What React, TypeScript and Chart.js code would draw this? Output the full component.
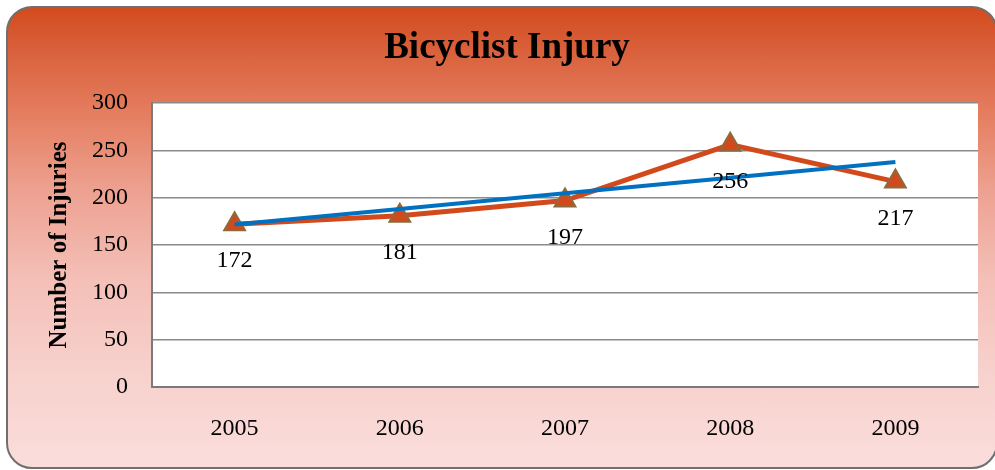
import React, { useEffect, useRef } from "react";
import { Chart, registerables } from "chart.js";

Chart.register(...registerables);

const chartTitle = "Bicyclist Injury";
const years = ["2005", "2006", "2007", "2008", "2009"];
const injuries = [172, 181, 197, 256, 217];
const trend = [171.6, 188.1, 204.6, 221.1, 237.6];
const yTicks = [0, 50, 100, 150, 200, 250, 300];

const SERIF = "'Liberation Serif', 'Times New Roman', serif";

const plotBg = {
  id: "plotBg",
  beforeDraw(chart: any) {
    const { ctx, chartArea } = chart;
    ctx.save();
    ctx.fillStyle = "#ffffff";
    ctx.fillRect(chartArea.left, chartArea.top, chartArea.right - chartArea.left, chartArea.bottom - chartArea.top);
    ctx.restore();
  },
};

const titlePlugin = {
  id: "customTitle",
  afterDraw(chart: any) {
    const { ctx } = chart;
    ctx.save();
    ctx.font = `bold 37px ${SERIF}`;
    ctx.fillStyle = "#000";
    ctx.textAlign = "center";
    ctx.textBaseline = "middle";
    ctx.fillText(chartTitle, 507, 48);
    ctx.restore();
  },
};

const dataLabels = {
  id: "dataLabels",
  afterDatasetsDraw(chart: any) {
    const { ctx } = chart;
    const meta = chart.getDatasetMeta(1);
    ctx.save();
    ctx.font = `24px ${SERIF}`;
    ctx.fillStyle = "#000";
    ctx.textAlign = "center";
    ctx.textBaseline = "middle";
    meta.data.forEach((pt: any, i: number) => {
      ctx.fillText(String(injuries[i]), pt.x, pt.y + 37);
    });
    ctx.restore();
  },
};

export default function App() {
  const ref = useRef<HTMLCanvasElement>(null);
  useEffect(() => {
    if (!ref.current) return;
    const chart = new Chart(ref.current, {
      type: "line",
      data: {
        labels: years,
        datasets: [
          {
            label: "Trend",
            data: trend,
            borderColor: "#0070C0",
            borderWidth: 4,
            pointRadius: 0,
            tension: 0,
          },
          {
            label: "Injuries",
            data: injuries,
            borderColor: "#D24A1C",
            borderWidth: 5,
            pointStyle: "triangle",
            pointRadius: 12,
            pointBackgroundColor: "#D24A1C",
            pointBorderColor: "#8B6B3D",
            pointBorderWidth: 2,
            tension: 0,
          },
        ],
      },
      options: {
        responsive: false,
        animation: false,
        layout: { padding: { top: 103, left: 10, right: 17, bottom: 0 } },
        plugins: {
          legend: { display: false },
          tooltip: { enabled: false },
          title: { display: false },
        },
        scales: {
          x: {
            offset: true,
            grid: { display: false, drawTicks: false },
            border: { display: true, color: "#7a7a7a", width: 2 },
            ticks: { color: "#000", font: { family: SERIF, size: 24 }, padding: 27 },
            afterFit(scale: any) {
              scale.height = 83;
            },
          },
          y: {
            min: 0,
            max: 300,
            afterBuildTicks(scale: any) {
              scale.ticks = yTicks.map((v) => ({ value: v }));
            },
            grid: { color: "#8a8a8a", lineWidth: 1.5, drawTicks: false },
            border: { display: true, color: "#7a7a7a", width: 2 },
            ticks: { color: "#000", font: { family: SERIF, size: 24 }, padding: 24 },
            title: {
              display: true,
              text: "Number of Injuries",
              color: "#000",
              font: { family: SERIF, size: 25, weight: "bold" },
              padding: { top: 35, bottom: 0 },
            },
            afterFit(scale: any) {
              scale.width = 142;
            },
          },
        },
      },
      plugins: [plotBg, dataLabels, titlePlugin],
    });
    return () => chart.destroy();
  }, []);

  return (
    <div style={{ position: "absolute", left: 0, top: 0, width: 995, height: 470, overflow: "hidden", background: "#fff" }}>
      <div
        style={{
          position: "absolute",
          left: 6,
          top: 6,
          width: 992,
          height: 463,
          boxSizing: "border-box",
          border: "2px solid #6f6f6f",
          borderRadius: 26,
          background:
            "linear-gradient(to bottom, #D34B1E 0px, #DA6440 50px, #E47B5C 100px, #EDA08F 180px, #F4BFB7 270px, #F7D0CC 360px, #FADDDB 455px)",
        }}
      />
      <canvas ref={ref} width={995} height={470} style={{ position: "absolute", left: 0, top: 0 }} />
    </div>
  );
}
